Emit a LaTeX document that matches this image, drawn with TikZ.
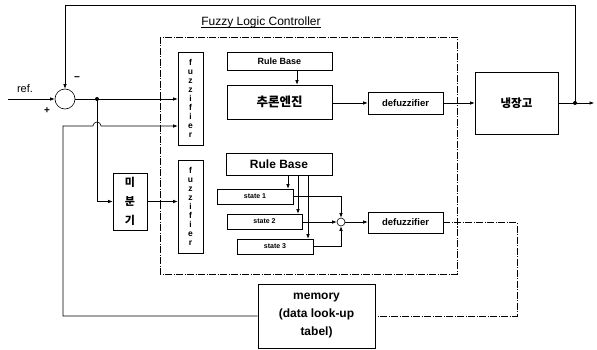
\documentclass[tikz,border=0pt]{standalone}
\usepackage{fontspec}
\setmainfont{Liberation Sans}
\newfontfamily\kr{Noto Sans CJK KR}
\usetikzlibrary{arrows.meta}
\begin{document}
\begin{tikzpicture}[x=1pt,y=-1pt, line width=0.6pt,
  >={Latex[length=4.5pt,width=3.5pt]},
  box/.style={draw, inner sep=0pt, align=center, font=\bfseries\fontsize{9.5}{10}\selectfont},
  fzbox/.style={box, minimum width=25pt, minimum height=93pt, font=\bfseries\fontsize{8.5}{9}\selectfont},
  statebox/.style={box, minimum width=76pt, minimum height=15pt, font=\bfseries\fontsize{7}{8}\selectfont},
  jdot/.style={circle, fill, inner sep=0pt, minimum size=4pt},
  flcline/.style={thin, dash pattern=on 7pt off 1.5pt on 1pt off 1.5pt},
  memline/.style={thin, dash pattern=on 7pt off 1.5pt on 1pt off 1.5pt}]
\useasboundingbox (0,0) rectangle (597,350);

% Fuzzy logic controller border and title
\draw[flcline] (160,37) rectangle (457,274);
\node[font=\fontsize{12}{13}\selectfont, inner sep=0pt] (title) at (261,22) {Fuzzy Logic Controller};
\draw[line width=0.7pt] ([yshift=-2.5pt]title.base west) -- ([yshift=-2.5pt]title.base east);

% summing junction
\node[draw, circle, minimum size=20pt, inner sep=0pt] (sum) at (65,99) {};
\coordinate (refin) at (8,99);
\node[font=\fontsize{11}{12}\selectfont] (reflbl) at (25,89) {ref.};
\node[font=\bfseries\fontsize{10}{10}\selectfont] (plus) at (47,111) {+};
\node[font=\bfseries\fontsize{10}{10}\selectfont] (minus) at (77,79) {\textminus};

% fuzzifiers
\node[fzbox] (fz1) at (190.5,98.5) {f\\u\\z\\z\\i\\f\\i\\e\\r};
\node[fzbox] (fz2) at (190.5,206.5) {f\\u\\z\\z\\i\\f\\i\\e\\r};

% upper path
\node[box, minimum width=105pt, minimum height=18pt, font=\bfseries\fontsize{9}{10}\selectfont] (rb1) at (279.5,61) {Rule Base};
\node[box, minimum width=105pt, minimum height=34pt, font=\kr\bfseries\fontsize{12.5}{13}\selectfont] (inf) at (279.5,102) {추론엔진};
\node[box, minimum width=75pt, minimum height=22pt] (df1) at (405.5,103) {defuzzifier};
\node[box, minimum width=83pt, minimum height=62pt, font=\kr\bfseries\fontsize{11.5}{12}\selectfont] (fridge) at (516.5,103) {냉장고};
\node[jdot] (odot) at (575,103) {};
\coordinate (yout) at (594,103);
\coordinate (fbtop) at (65,5);

% lower path
\node[box, minimum width=106pt, minimum height=22pt, font=\bfseries\fontsize{12}{13}\selectfont] (rb2) at (279,164) {Rule Base};
\node[statebox] (s1) at (255,196.5) {state 1};
\node[statebox, minimum width=75pt] (s2) at (264.5,221.5) {state 2};
\node[statebox] (s3) at (275,246.5) {state 3};
\node[draw, circle, minimum size=8pt, inner sep=0pt] (comb) at (341,222) {};
\node[box, minimum width=75pt, minimum height=21pt] (df2) at (405.5,222.5) {defuzzifier};
\node[box, minimum width=34pt, minimum height=57pt, font=\kr\bfseries\fontsize{11}{19}\selectfont] (diff) at (130,201.5) {미\\분\\기};
\node[box, minimum width=117pt, minimum height=64pt, font=\bfseries\fontsize{12}{18}\selectfont] (mem) at (316.5,316) {memory\\(data look-up\\tabel)};

% error path
\draw[->] (refin) -- (sum.west);
\draw[->] (sum.east) -- (sum.east -| fz1.west);
\node[jdot] (j1) at (97,99) {};
\draw[->] (j1.center) |- (diff.west);
\draw[->] (diff.east) -- (diff.east -| fz2.west);

% memory path with hop
\coordinate (mcorner) at (63,316);
\coordinate (mup) at (63,126);
\draw[->] (mem.west) -- (mcorner) -- (mup) -- (93,126) arc[start angle=180, end angle=0, radius=4pt] -- (fz1.west |- mup);

% upper controller
\draw[->] (297,0 |- rb1.south) -- (297,0 |- inf.north);
\draw[->] (inf.east |- df1.west) -- (df1.west);
\draw[->] (df1.east) -- (fridge.west);
\draw (fridge.east) -- (odot.center);
\draw[->] (odot.center) -- (yout);
\draw[->] (odot.center) |- (fbtop) -- (sum.north);

% lower controller
\draw[->] (288,0 |- rb2.south) -- (288,0 |- s1.north);
\draw[->] (298,0 |- rb2.south) -- (298,0 |- s2.north);
\draw[->] (308,0 |- rb2.south) -- (308,0 |- s3.north);
\draw[->] (s1.east) -| (comb.north);
\draw[->] (s2.east |- comb.west) -- (comb.west);
\draw[->] (s3.east) -| (comb.south);
\draw[->] (comb.east) -- (comb.east -| df2.west);
\draw[memline] (df2.east) -- (517,0 |- df2.east) |- (mem.east);
\end{tikzpicture}
\end{document}
